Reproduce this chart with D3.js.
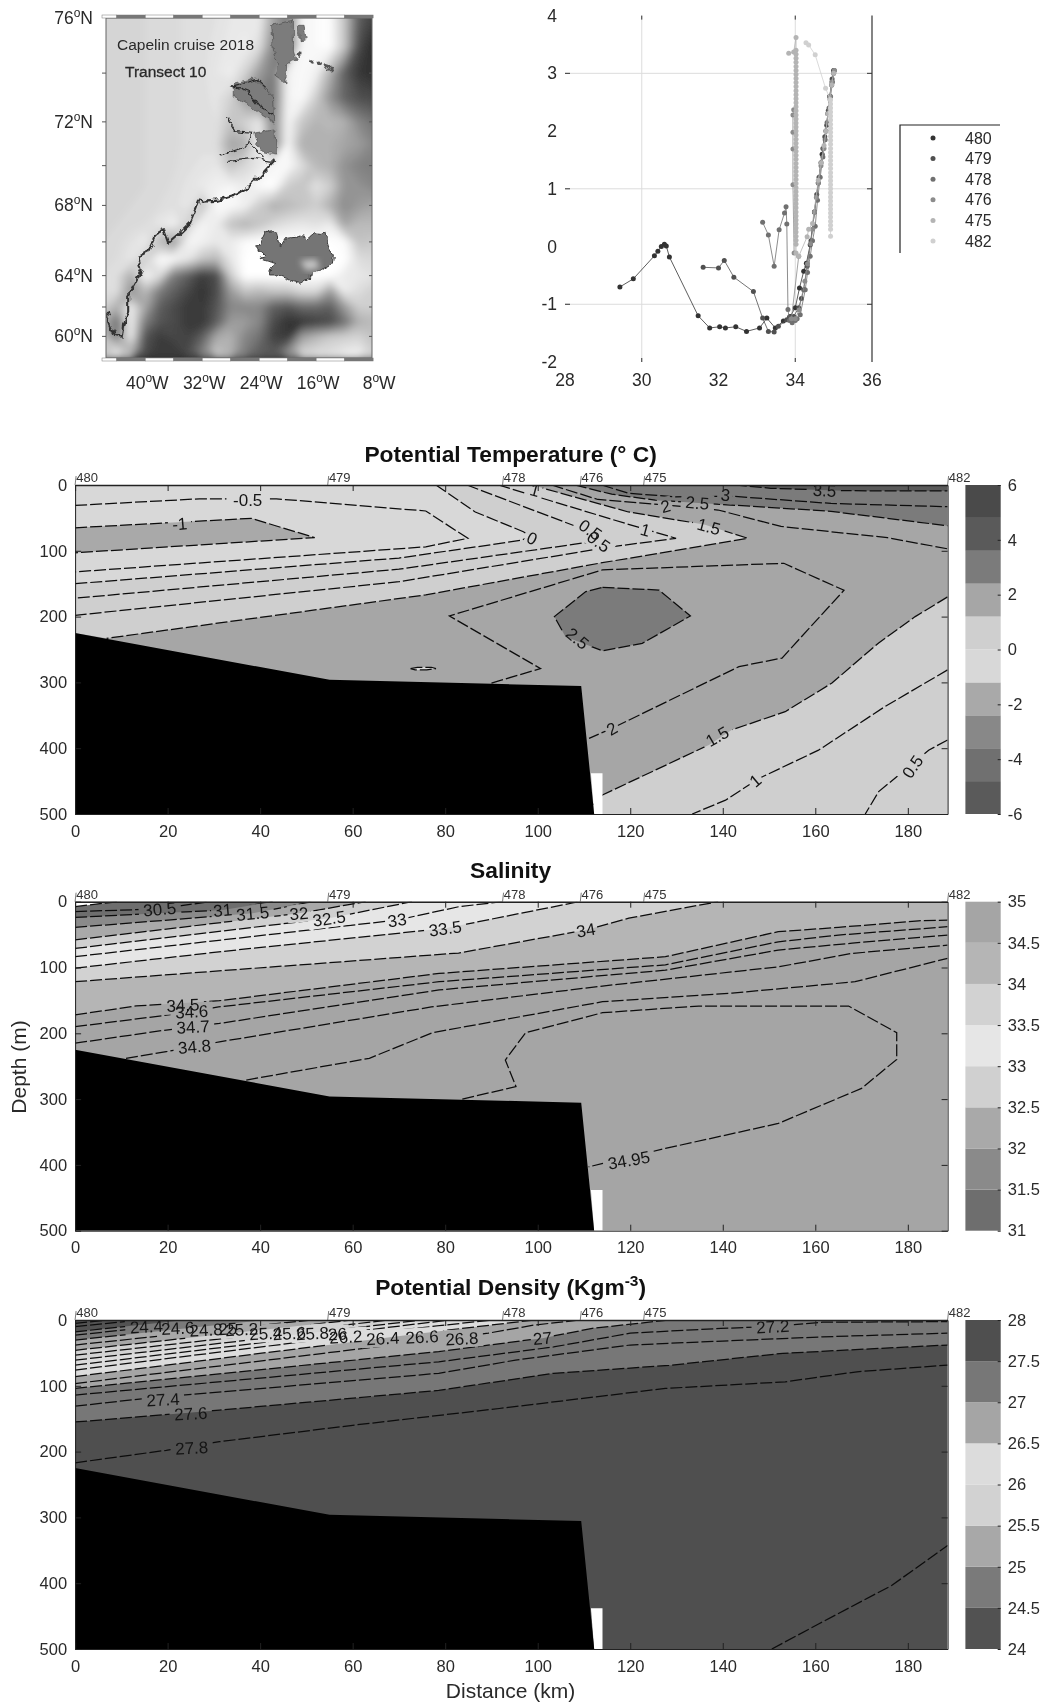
<!DOCTYPE html>
<html>
<head>
<meta charset="utf-8">
<script src="https://cdnjs.cloudflare.com/ajax/libs/d3/7.8.5/d3.min.js"></script>
<style>
  html, body { margin: 0; background: #fff; }
  svg { display: block; font-family: "Liberation Sans", Arial, sans-serif; filter: blur(0.35px); }
  text { fill: #2a2a2a; }
</style>
</head>
<body>
<div id="chart"></div>
<script>
// ---- map: shade of the relief image, one row per degree of latitude, one column per 2 degrees of longitude
const mapLons = d3.range(-46, -7, 2);
const mapLats = d3.range(76, 58, -1);
const mapShade = [
  205,205,208,210,212,214,216,218,220,225,228,230,160,120,240,245,245,190,90,60,
  205,205,208,210,212,214,216,218,222,228,232,215,130,110,240,245,248,190,70,35,
  205,205,208,210,212,214,216,218,225,232,205,150,120,235,245,235,170,90,50,40,
  205,205,208,210,212,214,216,218,222,205,150,120,115,238,245,200,140,95,75,70,
  205,205,208,210,212,214,216,218,220,190,205,225,130,240,195,175,180,170,130,110,
  205,205,208,210,212,214,216,218,215,160,170,235,130,240,170,170,170,160,150,130,
  205,205,208,210,212,214,218,222,225,190,210,225,240,245,215,180,170,140,125,120,
  205,205,208,210,212,216,222,228,235,240,230,245,250,200,190,220,200,145,140,130,
  205,208,210,212,215,218,225,190,245,245,235,200,170,180,190,200,170,135,150,160,
  208,210,212,215,225,235,200,240,230,190,175,190,210,220,225,220,230,160,180,180,
  210,212,220,230,180,150,240,235,225,230,245,250,250,250,250,250,250,245,190,195,
  212,215,225,200,245,245,225,190,180,225,250,250,250,250,250,250,250,250,215,210,
  215,215,170,240,215,120,90,55,70,200,250,250,250,250,250,250,250,230,225,220,
  215,215,140,180,120,90,65,45,70,150,190,180,190,190,210,210,150,230,215,200,
  205,170,230,160,90,70,50,50,80,130,130,130,90,80,100,100,90,150,200,200,
  170,110,235,120,80,70,50,50,90,150,150,130,70,45,50,60,70,110,170,180,
  190,120,230,80,55,65,60,90,160,170,130,110,60,50,150,175,195,200,205,190,
  190,220,175,70,50,50,70,120,190,170,120,90,80,130,200,210,215,225,230,200
];
const greenlandCoast = [[-45.43,61.7],[-44.96,60.8],[-44.26,60.1],[-43.3,60],[-43.1,60.8],[-42.4,61.7],[-42.4,62.8],[-41.45,63.55],[-40.5,64.35],[-41,65.15],[-39.6,65.45],[-38.4,66.5],[-37.5,66.7],[-36.8,65.9],[-35.1,66.5],[-33.7,67.05],[-33,67.7],[-32.3,68.35],[-31.75,68.2],[-30,68.25],[-27.6,68.5],[-25.5,68.95],[-23.9,69.5],[-22,70.2]];
const darkLands = [
  [[-24.8,71.5],[-21.8,71.65],[-21.55,70.5],[-23.2,70.6],[-24.35,71.05]],
  [[-27.65,73.6],[-24.8,73.8],[-22,73.05],[-21.8,71.95],[-23.9,72.35],[-25.75,72.77],[-27.65,73.05]],
  [[-22.25,75.75],[-19.2,75.93],[-19.2,74.86],[-18.75,74.49],[-20.15,74.36],[-20.25,73.6],[-21.8,73.92],[-21.3,74.36],[-22,74.86]],
  [[-18.5,75.75],[-17.7,75.75],[-17.4,75.25],[-18.4,75.2]]
];
const fjords = [
  [[-28.1,73.55],[-25.5,73.27],[-23.9,72.65],[-22,72.3]],
  [[-28.6,72.2],[-27.4,71.57],[-25.05,71.5],[-25.5,71.05]],
  [[-29.3,70.5],[-27.15,70.75],[-25.3,71.05],[-23.4,70.42]],
  [[-28.35,70.2],[-24.8,70.35],[-22,70.2]],
  [[-27.65,73.5],[-24.35,73.75],[-22.95,73.4]]
];
const coastIslets = [[-18.4,74.7],[-16.5,74.45],[-15.5,74.35],[-14.6,74.25],[-14,74.15]];
const iceland = [[-24.36,65.63],[-23.66,66.1],[-23.2,66.5],[-22.26,66.57],[-21.55,66.48],[-21.3,66.02],[-20.85,65.76],[-20.15,66.2],[-18.98,66.26],[-18.28,66.33],[-17.34,66.2],[-16.4,66.52],[-15.47,66.48],[-14.77,66.57],[-14.53,66.11],[-14.3,65.76],[-13.45,65.24],[-13.6,64.74],[-14.77,64.44],[-15.94,64.24],[-17.1,63.83],[-18.28,63.52],[-19.2,63.63],[-20.15,63.83],[-21.3,64.04],[-22.7,64.04],[-22.26,64.44],[-21.55,64.74],[-23.4,64.94],[-23.9,65.04],[-22.96,65.14],[-23.66,65.43]];
const icelandIce = [[-18.3,64.9],[-16,65],[-15.5,64.45],[-17.4,64.3]];
const latTicks = [76, 72, 68, 64, 60];
const lonTicks = [-40, -32, -24, -16, -8];
const mapNotes = ["Capelin cruise 2018", "Transect 10"];

// ---- theta-S diagram
const stations = ["480", "479", "478", "476", "475", "482"];
const sal480 = [29.43,29.78,30.33,30.42,30.51,30.59,30.64,30.72,31.47,31.77,32.03,32.18,32.45,32.73,33.07,33.26,33.48,33.69,33.87,34,34.11,34.22,34.29,34.39,34.5,34.6,34.7,34.8,34.85,34.9,34.95,35];
const temp480 = [-0.7,-0.56,-0.16,-0.08,0,0.04,0.01,-0.18,-1.2,-1.41,-1.39,-1.41,-1.39,-1.47,-1.41,-1.24,-1.41,-1.29,-1.21,-1.06,-0.72,-0.43,-0.29,0.03,0.6,1.1,1.6,2,2.3,2.6,2.8,3.05];
const sal479 = [31.6,32,32.15,32.4,32.91,33.15,33.3,33.45,33.56,33.78,33.85,33.96,34.09,34.16,34.22,34.31,34.41,34.5,34.56,34.62,34.67,34.72,34.77,34.82,34.86,34.9,34.96,35];
const temp479 = [-0.36,-0.37,-0.24,-0.53,-0.78,-1.24,-1.47,-1.48,-1.38,-1.27,-1.22,-1.21,-1.06,-0.9,-0.75,-0.34,0.1,0.6,0.9,1.2,1.45,1.7,1.9,2.1,2.35,2.6,2.9,3];
const sal478 = [33.15,33.3,33.45,33.58,33.72,33.76,33.78,33.81,33.85,33.92,34,34.05,34.13,34.26,34.32,34.39,34.45,34.52,34.58,34.65,34.72,34.78,34.83,34.88,34.92,34.97,35.02];
const temp478 = [0.42,0.2,-0.34,0.29,0.58,0.69,0.39,-1.09,-1.28,-1.32,-1.28,-1.25,-1.18,-0.75,-0.45,-0.17,0.1,0.35,0.8,1.2,1.55,1.85,2.15,2.4,2.6,2.85,3.05];
const sal476 = [33.96,33.94,33.94,33.94,33.94,33.97,34.09,33.9,34,34.1,34.25,34.32,34.4,34.45,34.5,34.55,34.6,34.67,34.75,34.8,34.85,34.9,34.95,35.02];
const temp476 = [2.37,2.28,1.98,1.69,1.07,-0.11,-0.17,-1.25,-1.25,-1.1,-0.6,-0.3,0.05,0.3,0.6,0.85,1.1,1.4,1.7,2,2.3,2.6,2.85,3.05];
const sal475 = [33.83,33.96,34.02,34.02,34.02,34.02,34.02,34.02,34.02,34.02,34.02,34.02,34.02,34.02,34.02,34.02,34.02,34.02,34.02,34.02,34.02,34.02,34.02,34.02,34.02,34.02,34.02,34.02,34.02,34.02,34.02,34.02,34.02,34.02,34.02,34.02,34.02,34.02,34.02,34.02,34.02,34.02,34.02,34.02,34.02,34.02,34.02,34.02,34.02,34.02,34.02,34.02,34.02,34.09,34.31,34.35,34.45,34.6,34.68,34.75,34.8,34.85,34.9,34.95,35];
const temp475 = [3.35,3.37,3.62,3.4,3.33,3.26,3.19,3.12,3.05,2.98,2.91,2.84,2.77,2.7,2.63,2.56,2.49,2.42,2.35,2.28,2.21,2.14,2.07,2,1.93,1.86,1.79,1.72,1.65,1.58,1.51,1.44,1.37,1.3,1.23,1.16,1.09,1.02,0.95,0.88,0.81,0.74,0.67,0.6,0.53,0.46,0.39,0.32,0.25,0.18,0.11,0.04,-0.11,-0.17,0.17,0.3,0.4,1.15,1.45,1.75,2,2.3,2.55,2.8,3];
const sal482 = [34.28,34.35,34.52,34.79,34.92,34.92,34.92,34.92,34.92,34.92,34.92,34.92,34.92,34.92,34.92,34.92,34.92,34.92,34.92,34.92,34.92,34.92,34.92,34.92,34.92,34.92,34.92,34.92,34.92,34.92,34.92,34.92,34.92,34.92,34.92,34.92,34.92,34.92];
const temp482 = [3.53,3.49,3.32,2.74,2.54,2.47,2.4,2.33,2.26,2.19,2.12,2.05,1.98,1.91,1.84,1.77,1.7,1.63,1.56,1.49,1.42,1.35,1.28,1.21,1.14,1.07,1,0.93,0.86,0.79,0.72,0.65,0.58,0.51,0.44,0.37,0.3,0.18];
const salSeries = [sal480, sal479, sal478, sal476, sal475, sal482];
const tempSeries = [temp480, temp479, temp478, temp476, temp475, temp482];
const stationGrays = ["#333333", "#505050", "#707070", "#8c8c8c", "#b4b4b4", "#d0d0d0"];
const tsXTicks = [28, 30, 32, 34, 36];
const tsYTicks = [-2, -1, 0, 1, 2, 3, 4];
const tsGridX = [30, 34];
const tsGridY = [-1, 1, 3];

// ---- sections: station positions and the sea floor
const sectionStations = [0, 54.6, 92.4, 109.2, 122.9, 188.6];
const seaFloor = [[0,225],[55,296],[109.4,305.5],[112.2,500],[0,500]];
const floorGap = [[111.5,438],[114,438],[114,500],[112.2,500]];
const distanceTicks = d3.range(0, 181, 20);
const depthTicks = d3.range(0, 501, 100);

// potential temperature contours, [km, depth]
const tM1 = [[0,65],[38.1,50.7],[51.8,80],[0,103]];
const tM05 = [[0,31],[26.9,21],[43.5,21],[75.8,39.5],[84.9,81],[75.8,94],[0,132]];
const t0 = [[78,0],[86.5,41],[96.9,71],[98.5,78],[96.5,84],[70,111],[0,150]];
const t05 = [[84.7,0],[109.8,67],[113.5,76],[113,85],[70,128],[0,172]];
const t1 = [[91.5,0],[120.2,61],[129.9,81],[115.9,94],[70,147],[0,198]];
const t15 = [[98.7,0],[119.6,41],[136,60],[145.4,81],[113.2,119],[75.8,167],[6.8,233]];
const t2 = [[90,301],[100.6,279],[80.9,199],[114,129],[153.2,119],[166.2,160],[152.8,263],[143.5,276],[116,370],[111.1,385]];
const t2Top = [[103,0],[113,22],[127,30],[139,38],[152.6,63],[175.6,80],[188.6,97]];
const t25 = [[108,0],[116,14],[125.4,23],[141.7,30.4],[163.4,40],[188.6,62]];
const t3 = [[113.8,0],[119.6,12.5],[129.6,18],[141.8,17],[163.4,28],[188.6,33]];
const t35 = [[142.6,0],[150.4,5],[166,8.7],[188.6,9]];
const tCore = [[114,155.5],[126.2,159.6],[133,199],[122.6,240.6],[114,252],[106,230.5],[103.6,200],[110.4,162],[114,155.5]];
const tPatch = [[72.5,279],[74,277],[77,277],[78,279],[76,281],[73.5,281],[72.5,279]];
const t15Deep = [[188.6,170],[181.6,200],[173.7,240],[163.6,301],[153.5,344.5],[142,372],[137,395],[114,471],[112,486]];
const t1Deep = [[188.6,281],[175,337],[160.7,403],[147.8,446],[140.6,479],[133.4,500]];
const t05Deep = [[188.6,387.5],[184.5,403],[179.4,433],[173.7,466],[170.8,500]];
const tempLines = [tM1, tM05, t0, t05, t1, t15, t2, t2Top, t25, t3, t35, tCore, tPatch, t15Deep, t1Deep, t05Deep];
const tempFills = [
  [1, t15Deep.concat([[112,500],[188.6,500]])],
  [1, t15.concat([[0,225],[0,0]])],
  [-0.6, t0.concat([[0,0]])],
  [-1.5, tM1],
  [3, tCore],
  [3, t25.concat([[188.6,0]])],
  [4, t35.concat([[188.6,0]])],
  [-0.6, tPatch]
];
const tempLabels = [["-0.5",37.3,22,0],["-1",22.6,59,-5],["0",98.8,81,25],["0.5",111.4,68,35],["0.5",113.2,86,35],["1",123.3,68,15],["1",99.4,7.6,15],["1.5",137,63,15],["2",127.6,32,-15],["2.5",134.5,27,5],["3",140.6,15,5],["3.5",162,8,3],["2.5",108.6,233,40],["2",116,370,-30],["1.5",138.8,382,-30],["1",147,449,-40],["0.5",181,428,-55]];
const tempBarTicks = [-6, -4, -2, 0, 2, 4, 6];
const tempBarGrays = ["#5a5a5a","#707070","#888888","#a9a9a9","#d8d8d8","#cfcfcf","#a6a6a6","#7b7b7b","#5a5a5a","#4a4a4a"];

// salinity contours
const sCut = [[0,7.5],[6,2.5],[9.3,0]];
const s305 = [[0,15],[18.2,11],[29,0]];
const s31 = [[0,24],[31.9,12.6],[42.7,0]];
const s315 = [[0,39],[38.4,17.7],[51.3,0]];
const s32 = [[0,58],[48.4,17.7],[62.8,0]];
const s325 = [[0,71],[54.9,25.3],[72.8,0]];
const s33 = [[0,83.5],[69.6,27.9],[83,7.5],[92.4,0]];
const s335 = [[0,101],[32.7,75],[80,40.5],[108.9,0]];
const s34 = [[0,121.5],[82.9,78],[110.4,43],[119.7,25],[139,0]];
const s345 = [[0,172],[13.2,158.5],[31.2,150.5],[78.7,109],[127.6,83.6],[152,45.6],[165,39],[182.3,29],[188.6,28]];
const s346 = [[0,190],[22.6,170],[31,160],[78.7,121.6],[127.6,96],[152,61],[165,50.7],[188.6,38]];
const s347 = [[0,215],[19.7,195],[31.2,185],[78.7,134],[127.6,104],[152,73.5],[168,63],[188.6,50.7]];
const s348 = [[11,238],[19.7,228],[31.2,213],[77,160],[113,129],[152,99],[168,78.5],[188.6,66]];
const s349 = [[37,271],[63.6,238],[77.3,199],[114,152],[142,139],[168.6,121.6],[188.6,86]];
const s3495 = [[83.7,300],[95.3,281],[93,240.6],[97.4,199],[114,168.7],[134.8,158.6],[167.2,158.6],[177.6,199],[177.6,239.6],[170,283.7],[152,337],[127.6,375],[111,403]];
const salLines = [sCut, s305, s31, s315, s32, s325, s33, s335, s34, s345, s346, s347, s348, s349, s3495];
const salFills = [
  [34.2, s345.concat([[188.6,0],[0,0]])],
  [33.8, s34.concat([[0,0]])],
  [33.2, s335.concat([[0,0]])],
  [32.8, s325.concat([[0,0]])],
  [32.2, s32.concat([[0,0]])],
  [31.8, s315.concat([[0,0]])],
  [31.2, s31.concat([[0,0]])]
];
const salCut = sCut.concat([[0,0]]);
const salLabels = [["30.5",18.3,11,-5],["31",31.9,12.6,-5],["31.5",38.4,17.7,-5],["32",48.4,17.7,-5],["32.5",54.9,25.3,-8],["33",69.6,27.9,-8],["33.5",80,40.5,-8],["34",110.4,43,-10],["34.5",23.3,157,-3],["34.6",25.2,167,-3],["34.7",25.5,190,-3],["34.8",25.8,220,-5],["34.95",119.7,392.6,-10]];
const salBarTicks = d3.range(31, 35.1, 0.5);
const salBarGrays = ["#6e6e6e","#8a8a8a","#a9a9a9","#d0d0d0","#e6e6e6","#d2d2d2","#b5b5b5","#a5a5a5"];

// potential density contours
const d244 = [[0,5],[7,0]];
const d246 = [[0,10],[14,0]];
const d248 = [[0,18],[24,0]];
const d25 = [[0,23],[31,0]];
const d252 = [[0,30.5],[41,0]];
const d254 = [[0,38],[51,0]];
const d256 = [[0,46],[60,0]];
const d258 = [[0,53.4],[68,0]];
const d26 = [[0,61],[75,0]];
const d262 = [[0,68.6],[81,0]];
const d264 = [[0,76],[66.5,18],[90,0]];
const d266 = [[0,86],[75,20],[99.3,0]];
const d268 = [[0,96.6],[83.6,25],[89.3,20],[99.3,7.6],[109.2,0]];
const d27 = [[0,104],[78.6,48],[101,27.6],[111.8,12.7],[128.4,0]];
const d272 = [[0,114],[78.6,63.5],[103.4,41],[120,20],[139.6,12.7],[150.8,10],[161.6,3.4],[188.6,2.5]];
const d274 = [[0,131],[15.4,119],[78.6,81],[95.2,61],[120,38],[145,30.5],[161.5,25.6],[188.6,20]];
const d276 = [[0,155],[31.2,137],[78.6,107],[103.4,81],[128.4,69],[153,50.6],[188.6,38]];
const d278 = [[0,217],[19.7,198],[31.2,185],[60,160],[91.7,134.5],[127.6,104],[153.5,94],[169,78.7],[188.6,68.5]];
const d279 = [[150.6,500],[160.7,462],[176.5,403.5],[188.6,342.6]];
const densLines = [d244, d246, d248, d25, d252, d254, d256, d258, d26, d262, d264, d266, d268, d27, d272, d274, d276, d278, d279];
const densFills = [
  [27.25, d276.concat([[188.6,0],[0,0]])],
  [26.75, d27.concat([[0,0]])],
  [26.25, d266.concat([[0,0]])],
  [25.75, d26.concat([[0,0]])],
  [25.25, d256.concat([[0,0]])],
  [24.75, d252.concat([[0,0]])],
  [24.25, d248.concat([[0,0]])]
];
const densLabels = [["24.4",15.4,10,-3],["24.6",22.2,12,-3],["24.8",28.3,15,-3],["25",33,13,-3],["25.2",36,14,-3],["25.4",41.2,20,-3],["25.6",46.3,20,-3],["25.8",51.3,20,-3],["26",56.7,21,-3],["26.2",58.5,25.4,-3],["26.4",66.5,27.7,-3],["26.6",75,25.4,-3],["26.8",83.6,28,-3],["27",101,27.6,-5],["27.2",150.8,10,-3],["27.4",19,121,-3],["27.6",25,142,-3],["27.8",25.2,194,-3]];
const densBarTicks = d3.range(24, 28.1, 0.5);
const densBarGrays = ["#525252","#7a7a7a","#a8a8a8","#d2d2d2","#dcdcdc","#a5a5a5","#777777","#4f4f4f"];

const width = 1042;
const height = 1706;
const svg = d3.select("#chart").append("svg").attr("width", width).attr("height", height);

// ---------- map ----------
const projection = d3.geoMercator().scale(408).translate([430.1, 873.7]);
const pt = p => projection(p);
const geoLine = d3.line().x(p => pt(p)[0]).y(p => pt(p)[1]);
const mapBox = { left: 106, right: 372, top: 18, bottom: 358 };

svg.append("clipPath").attr("id", "mapClip").append("rect")
  .attr("x", mapBox.left).attr("y", mapBox.top)
  .attr("width", mapBox.right - mapBox.left).attr("height", mapBox.bottom - mapBox.top);
const soft = svg.append("filter").attr("id", "soft").attr("x", "-20%").attr("y", "-20%").attr("width", "140%").attr("height", "140%");
soft.append("feGaussianBlur").attr("stdDeviation", 3.2);
// coasts are jagged in the picture, roughen the outlines
const rough = svg.append("filter").attr("id", "rough").attr("filterUnits", "userSpaceOnUse")
  .attr("x", 90).attr("y", 0).attr("width", 300).attr("height", 380);
rough.append("feTurbulence").attr("type", "fractalNoise").attr("baseFrequency", 0.14).attr("numOctaves", 2).attr("seed", 4).attr("result", "noise");
rough.append("feDisplacementMap").attr("in", "SourceGraphic").attr("in2", "noise").attr("scale", 7)
  .attr("xChannelSelector", "R").attr("yChannelSelector", "G").attr("result", "moved");
rough.append("feGaussianBlur").attr("in", "moved").attr("stdDeviation", 0.6);

const gridToMap = d3.geoTransform({
  point(x, y) {
    const lon = mapLons[0] + (x - 0.5) * 2;
    const lat = mapLats[0] - (y - 0.5);
    const p = projection([lon, lat]);
    this.stream.point(p[0], p[1]);
  }
});
const mapG = svg.append("g").attr("clip-path", "url(#mapClip)");
const relief = mapG.append("g").attr("filter", "url(#soft)");
relief.append("rect").attr("x", 90).attr("y", 0).attr("width", 300).attr("height", 380).attr("fill", "#2c2c2c");
relief.selectAll("path")
  .data(d3.contours().size([mapLons.length, mapLats.length]).smooth(true).thresholds(d3.range(40, 256, 5))(mapShade))
  .join("path")
  .attr("d", d3.geoPath().projection(gridToMap))
  .attr("fill", d => { const v = Math.min(255, d.value + 8); return d3.rgb(v, v, v); });

const landG = mapG.append("g").attr("filter", "url(#rough)");
landG.selectAll(".land").data(darkLands).join("path").attr("class", "land")
  .attr("d", d => geoLine(d) + "Z").attr("fill", "#7c7c7c").attr("stroke", "#444").attr("stroke-width", 0.6);
landG.selectAll(".fjord").data(fjords).join("path").attr("class", "fjord")
  .attr("d", geoLine).attr("fill", "none").attr("stroke", "#2a2a2a").attr("stroke-width", 1.2);
landG.append("path").attr("d", geoLine(greenlandCoast)).attr("fill", "none").attr("stroke", "#333").attr("stroke-width", 2.1);
landG.selectAll("circle").data(coastIslets).join("circle")
  .attr("cx", d => pt(d)[0]).attr("cy", d => pt(d)[1]).attr("r", 2.4).attr("fill", "#555");
landG.append("path").attr("d", geoLine(iceland) + "Z").attr("fill", "#757575").attr("stroke", "#383838").attr("stroke-width", 1);
mapG.append("path").attr("d", geoLine(icelandIce) + "Z").attr("fill", "#c4c4c4").attr("filter", "url(#soft)");

// frame of the map
const frame = svg.append("g");
frame.append("rect").attr("x", mapBox.left).attr("y", mapBox.top)
  .attr("width", mapBox.right - mapBox.left).attr("height", mapBox.bottom - mapBox.top)
  .attr("fill", "none").attr("stroke", "#666").attr("stroke-width", 1);
const bandEdges = d3.range(-48, -7, 4);
[15, 358].forEach(y => {
  bandEdges.slice(0, -1).forEach((lon, i) => {
    const x0 = Math.max(102, pt([lon, 70])[0]);
    const x1 = pt([bandEdges[i + 1], 70])[0];
    frame.append("rect").attr("x", x0).attr("y", y).attr("width", x1 - x0).attr("height", 3)
      .attr("fill", i % 2 ? "#777" : "#fff").attr("stroke", "#777").attr("stroke-width", 0.5);
  });
});
frame.selectAll(".latTick").data(d3.range(60, 76, 2)).join("path").attr("class", "latTick")
  .attr("d", d => {
    const y = pt([-40, d])[1];
    return `M${mapBox.left - 4},${y}H${mapBox.left}M${mapBox.right - 3},${y}H${mapBox.right}`;
  })
  .attr("stroke", "#555");

function degreeLabel(sel, value, hemi) {
  sel.append("tspan").text(value);
  sel.append("tspan").attr("font-size", 12).attr("dy", -7).text("o");
  sel.append("tspan").attr("dy", 7).text(hemi);
}
frame.selectAll(".latLabel").data(latTicks).join("text").attr("class", "latLabel")
  .attr("x", 93).attr("y", d => pt([-40, d])[1] + 6)
  .attr("text-anchor", "end").attr("font-size", 17.5)
  .each(function (d) { degreeLabel(d3.select(this), d, "N"); });
frame.selectAll(".lonLabel").data(lonTicks).join("text").attr("class", "lonLabel")
  .attr("x", d => pt([d, 70])[0] + (d === -8 ? 6 : 2)).attr("y", 389)
  .attr("text-anchor", "middle").attr("font-size", 17.5)
  .each(function (d) { degreeLabel(d3.select(this), -d, "W"); });
svg.append("text").attr("x", 117).attr("y", 50).attr("font-size", 15.5).text(mapNotes[0]);
svg.append("text").attr("x", 125).attr("y", 77).attr("font-size", 15.5).attr("stroke", "#2a2a2a").attr("stroke-width", 0.3).text(mapNotes[1]);

// ---------- theta-S ----------
const tsX = d3.scaleLinear().domain([28, 36]).range([565, 872]);
const tsY = d3.scaleLinear().domain([-2, 4]).range([362, 15.6]);
const ts = svg.append("g");
ts.selectAll(".gx").data(tsGridX).join("line").attr("class", "gx")
  .attr("x1", tsX).attr("x2", tsX).attr("y1", tsY(-2)).attr("y2", tsY(4)).attr("stroke", "#dcdcdc");
ts.selectAll(".gy").data(tsGridY).join("line").attr("class", "gy")
  .attr("x1", tsX(28)).attr("x2", tsX(36)).attr("y1", tsY).attr("y2", tsY).attr("stroke", "#dcdcdc");
ts.selectAll(".tickY").data(tsGridY).join("path").attr("class", "tickY")
  .attr("d", d => `M${tsX(28)},${tsY(d)}h5M${tsX(36)},${tsY(d)}h-5`).attr("stroke", "#333");
ts.selectAll(".tickX").data(tsGridX).join("path").attr("class", "tickX")
  .attr("d", d => `M${tsX(d)},${tsY(-2)}v-4M${tsX(d)},${tsY(4)}v4`).attr("stroke", "#333");
ts.append("line").attr("x1", tsX(36)).attr("x2", tsX(36)).attr("y1", tsY(4)).attr("y2", tsY(-2)).attr("stroke", "#333").attr("stroke-width", 1.2);
ts.selectAll(".labX").data(tsXTicks).join("text").attr("class", "labX")
  .attr("x", tsX).attr("y", 386).attr("text-anchor", "middle").attr("font-size", 17.5).text(d => d);
ts.selectAll(".labY").data(tsYTicks).join("text").attr("class", "labY")
  .attr("x", 557).attr("y", d => tsY(d) + 6).attr("text-anchor", "end").attr("font-size", 17.5).text(d => d);

const tsLine = d3.line().x(d => tsX(d[0])).y(d => tsY(d[1]));
stations.forEach((st, i) => {
  const pts = d3.zip(salSeries[i], tempSeries[i]);
  const g = ts.append("g").attr("fill", stationGrays[i]).attr("stroke", "none");
  g.append("path").attr("d", tsLine(pts)).attr("fill", "none").attr("stroke", stationGrays[i]).attr("stroke-width", 0.8);
  g.selectAll("circle").data(pts).join("circle")
    .attr("cx", d => tsX(d[0])).attr("cy", d => tsY(d[1])).attr("r", 2.5);
});

// legend, only the top and left edges of its box show
ts.append("path").attr("d", "M1000,125H900V253").attr("fill", "none").attr("stroke", "#222").attr("stroke-width", 1.2);
const legY = d3.scalePoint().domain(stations).range([138, 241]);
ts.selectAll(".legDot").data(stations).join("circle").attr("class", "legDot")
  .attr("cx", 933).attr("cy", d => legY(d)).attr("r", 2.5).attr("fill", (d, i) => stationGrays[i]);
ts.selectAll(".legText").data(stations).join("text").attr("class", "legText")
  .attr("x", 965).attr("y", d => legY(d) + 5.5).attr("font-size", 16).text(d => d);

// ---------- sections ----------
const xKm = d3.scaleLinear().domain([0, 188.6]).range([75.1, 947.6]);

function drawSection(o) {
  const y = d3.scaleLinear().domain([0, 500]).range([o.top, o.top + 329]);
  const line = d3.line().x(d => xKm(d[0])).y(d => y(d[1]));
  const shade = d3.scaleQuantize().domain(o.barDomain).range(o.barGrays);
  const g = svg.append("g");
  const clipId = "clip" + Math.round(o.top);
  svg.append("clipPath").attr("id", clipId).append("rect")
    .attr("x", xKm(0)).attr("y", o.top).attr("width", xKm(188.6) - xKm(0)).attr("height", 329);

  const plot = g.append("g").attr("clip-path", `url(#${clipId})`);
  plot.append("rect").attr("x", xKm(0)).attr("y", o.top).attr("width", xKm(188.6) - xKm(0)).attr("height", 329)
    .attr("fill", shade(o.background));
  plot.selectAll(".band").data(o.fills).join("path").attr("class", "band")
    .attr("d", d => line(d[1]) + "Z").attr("fill", d => shade(d[0]));
  if (o.cut) plot.append("path").attr("d", line(o.cut) + "Z").attr("fill", "#fff");

  // contour lines, opened where a label sits
  const maskId = "mask" + Math.round(o.top);
  const mask = svg.append("mask").attr("id", maskId).attr("maskUnits", "userSpaceOnUse")
    .attr("x", 0).attr("y", 0).attr("width", width).attr("height", height);
  mask.append("rect").attr("width", width).attr("height", height).attr("fill", "#fff");
  mask.selectAll("rect.hole").data(o.labels).join("rect").attr("class", "hole")
    .attr("x", d => -d[0].length * 4.8 - 2).attr("y", -9)
    .attr("width", d => d[0].length * 9.6 + 4).attr("height", 18)
    .attr("transform", d => `translate(${xKm(d[1])},${y(d[2])}) rotate(${d[3]})`)
    .attr("fill", "#000");
  plot.append("g").attr("mask", `url(#${maskId})`)
    .selectAll("path").data(o.lines).join("path")
    .attr("d", line).attr("fill", "none").attr("stroke", "#0c0c0c")
    .attr("stroke-width", 1.25).attr("stroke-dasharray", "12 3");
  plot.selectAll(".clab").data(o.labels).join("text").attr("class", "clab")
    .attr("transform", d => `translate(${xKm(d[1])},${y(d[2])}) rotate(${d[3]})`)
    .attr("text-anchor", "middle").attr("dy", "0.36em").attr("font-size", 17)
    .style("fill", "#151515")
    .text(d => d[0]);

  plot.append("path").attr("d", line(floorGap) + "Z").attr("fill", "#fff");
  plot.append("path").attr("d", line(seaFloor) + "Z").attr("fill", "#000");

  // axes, ticks point inwards
  const styleAxis = a => {
    a.selectAll("text").attr("font-size", 16.5).attr("font-family", "Liberation Sans").style("fill", "#2a2a2a");
    a.selectAll("line").attr("stroke", "#222");
    a.select(".domain").attr("stroke", "#222");
  };
  g.append("g").attr("transform", `translate(0,${o.top + 329})`)
    .call(d3.axisBottom(xKm).tickValues(distanceTicks).tickSize(-6).tickSizeOuter(0).tickPadding(11)).call(styleAxis);
  g.append("g").attr("transform", `translate(0,${o.top})`)
    .call(d3.axisTop(xKm).tickValues(distanceTicks).tickSize(-6).tickSizeOuter(0).tickFormat("")).call(styleAxis)
    .select(".domain").attr("stroke-width", 1.6);
  g.append("g").attr("transform", `translate(${xKm(0)},0)`)
    .call(d3.axisLeft(y).tickValues(depthTicks).tickSize(-6).tickSizeOuter(0).tickPadding(8)).call(styleAxis);
  g.append("g").attr("transform", `translate(${xKm(188.6)},0)`)
    .call(d3.axisRight(y).tickValues(depthTicks).tickSize(-6).tickSizeOuter(0).tickFormat("")).call(styleAxis);

  // station marks above the axis
  sectionStations.forEach((km, i) => {
    g.append("path").attr("d", `M${xKm(km)},${o.top}l1,-9`).attr("stroke", "#444").attr("stroke-width", 0.7);
    g.append("text").attr("x", xKm(km) + 1.2).attr("y", o.top - 3).attr("font-size", 13)
      .style("fill", "#333").text(stations[i]);
  });

  // title
  const title = g.append("text").attr("x", 510.6).attr("y", o.titleY).attr("text-anchor", "middle")
    .attr("font-size", 22.8).attr("font-weight", "bold").style("fill", "#111");
  title.append("tspan").text(o.title[0]);
  if (o.title[1]) {
    title.append("tspan").attr("dy", -9).attr("font-size", 15.5).text(o.title[1]);
    title.append("tspan").attr("dy", 9).text(o.title[2]);
  }

  // colour bar
  const barY = d3.scaleLinear().domain(o.barDomain).range([o.top + 329, o.top]);
  const bins = shade.thresholds();
  const edges = [o.barDomain[0], ...bins, o.barDomain[1]];
  g.selectAll(".bin").data(o.barGrays).join("rect").attr("class", "bin")
    .attr("x", 965.4).attr("width", 35.3)
    .attr("y", (d, i) => barY(edges[i + 1])).attr("height", (d, i) => barY(edges[i]) - barY(edges[i + 1]))
    .attr("fill", d => d);
  const barAxis = g.append("g").attr("transform", "translate(1000.7,0)")
    .call(d3.axisRight(barY).tickValues(o.barTicks).tickSize(-3).tickSizeOuter(0).tickPadding(7).tickFormat(d => d));
  barAxis.select(".domain").remove();
  styleAxis(barAxis);
}

drawSection({
  top: 485, titleY: 462, title: ["Potential Temperature (° C)"], background: 2,
  lines: tempLines, fills: tempFills, labels: tempLabels,
  barDomain: [-6, 6], barGrays: tempBarGrays, barTicks: tempBarTicks
});
drawSection({
  top: 901.7, titleY: 878, title: ["Salinity"], background: 34.8,
  lines: salLines, fills: salFills, labels: salLabels, cut: salCut,
  barDomain: [31, 35], barGrays: salBarGrays, barTicks: salBarTicks
});
drawSection({
  top: 1320, titleY: 1295, title: ["Potential Density (Kgm", "-3", ")"], background: 27.75,
  lines: densLines, fills: densFills, labels: densLabels,
  barDomain: [24, 28], barGrays: densBarGrays, barTicks: densBarTicks
});

svg.append("text").attr("transform", "translate(26,1067) rotate(-90)").attr("text-anchor", "middle")
  .attr("font-size", 21).text("Depth (m)");
svg.append("text").attr("x", 510.6).attr("y", 1698).attr("text-anchor", "middle")
  .attr("font-size", 21).text("Distance (km)");
</script>
</body>
</html>
